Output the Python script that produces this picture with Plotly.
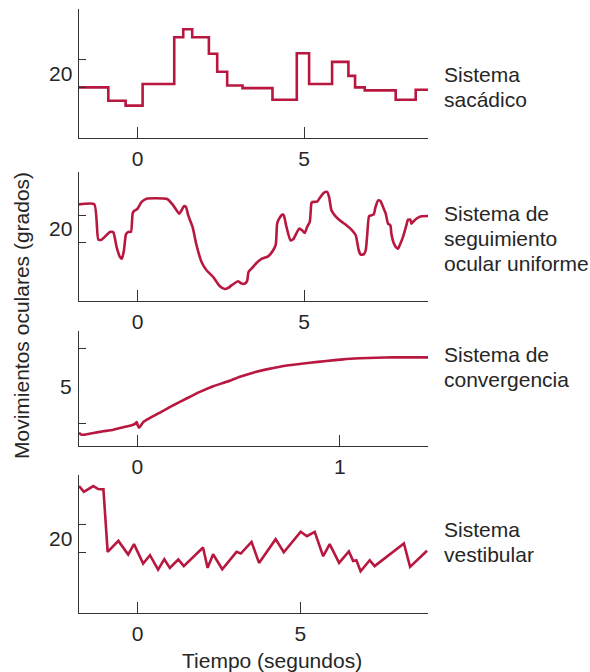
import plotly.graph_objects as go

W, H = 590, 672
LINE = "#B8173F"
AX = "#333333"
TXT = "#262626"
FONT = "Liberation Sans, Arial, Helvetica, sans-serif"

# Panel 1: sacádico (step)
sac_x = [-1.76, -0.88, -0.36, 0.15, 1.10, 1.37, 1.64, 2.14, 2.39, 2.69, 3.15, 4.05, 4.78, 5.15, 5.84, 6.33, 6.53, 6.82, 7.75, 8.35, 8.72]
sac_y = [10, 0.6, -2.9, 12.4, 45.5, 51.2, 45.5, 33.8, 21.1, 11.4, 9.5, 1.3, 34.2, 12.4, 28.1, 18.2, 10, 7.9, 1.3, 8.4, 8.4]

# Panel 2: seguimiento ocular uniforme
seg_x = [-1.76, -1.30, -1.18, -1.08, -0.83, -0.73, -0.63, -0.53, -0.47, -0.41, -0.35, -0.28, -0.20, -0.15, -0.11, -0.01,
         0.12, 0.27, 0.52, 0.89, 1.07, 1.25, 1.32, 1.39, 1.45, 1.52, 1.65, 1.77, 1.92, 2.07, 2.27, 2.47, 2.62, 2.72,
         2.82, 3.02, 3.12, 3.22, 3.29, 3.33, 3.42, 3.57, 3.72, 3.92, 4.07, 4.15, 4.19, 4.25, 4.35, 4.39, 4.47, 4.59,
         4.67, 4.85, 4.94, 5.02, 5.09, 5.17, 5.22, 5.25, 5.39, 5.49, 5.60, 5.69, 5.75, 5.82, 5.92, 6.07, 6.27, 6.42,
         6.55, 6.64, 6.70, 6.79, 6.85, 6.89, 6.95, 7.02, 7.09, 7.14, 7.22, 7.29, 7.37, 7.45, 7.52, 7.59, 7.62, 7.69,
         7.77, 7.82, 7.89, 7.97, 8.07, 8.12, 8.19, 8.22, 8.27, 8.37, 8.52, 8.72]
seg_y = [38.1, 38.1, 12.0, 12.0, 17.7, 17.4, 6.5, -0.9, -2.1, 4.1, 15.9, 17.7, 17.7, 31.2, 33.2, 34.7,
         39.9, 42.3, 42.6, 42.1, 37.4, 31.2, 33.7, 36.7, 36.2, 30.0, 21.4, 7.8, -4.6, -10.7, -15.7, -22.6, -24.6, -23.8,
         -21.9, -18.9, -20.6, -20.6, -18.6, -12.0, -9.5, -5.3, -2.3, -0.4, 4.1, 8.5, 23.8, 27.5, 30.5, 30.0, 21.4, 11.5,
         12.2, 20.1, 18.9, 16.9, 21.4, 25.1, 39.1, 39.9, 40.1, 43.6, 46.8, 47.3, 43.6, 33.7, 30.0, 26.3, 22.6, 19.4,
         15.2, 4.1, 0.9, 1.1, 4.1, 14.0, 29.3, 30.0, 30.7, 35.7, 41.1, 40.6, 36.2, 31.2, 23.8, 22.6, 16.4, 9.5,
         6.0, 5.3, 9.0, 14.0, 22.6, 26.8, 26.8, 23.8, 25.1, 27.5, 29.3, 29.5]

# Panel 3: convergencia
con_x = [-0.288, -0.278, -0.258, -0.217, -0.168, -0.118, -0.069, -0.028, -0.010, -0.003, 0.002, 0.008, 0.016, 0.030,
         0.063, 0.112, 0.178, 0.243, 0.309, 0.375, 0.441, 0.507, 0.572, 0.638, 0.704, 0.770, 0.852, 0.934, 1.016,
         1.099, 1.181, 1.263, 1.345, 1.436]
con_y = [1.92, 1.79, 1.79, 1.90, 2.01, 2.12, 2.28, 2.41, 2.52, 2.63, 2.41, 2.25, 2.37, 2.63,
         2.90, 3.26, 3.75, 4.20, 4.64, 5.02, 5.31, 5.65, 5.92, 6.14, 6.32, 6.45, 6.58, 6.70, 6.81,
         6.88, 6.92, 6.94, 6.94, 6.94]

# Panel 4: vestibular
ves_x = [-1.80, -1.65, -1.36, -1.21, -1.05, -0.92, -0.59, -0.29, -0.11, 0.17, 0.38, 0.63, 0.82, 0.99, 1.25, 1.42,
         2.01, 2.15, 2.32, 2.60, 3.04, 3.17, 3.50, 3.73, 4.24, 4.49, 5.01, 5.20, 5.44, 5.70, 5.90, 6.19, 6.49, 6.62,
         6.72, 6.85, 7.13, 7.28, 8.18, 8.37, 8.89]
ves_y = [56.8, 52.8, 56.8, 54.7, 54.5, 10.5, 18.2, 8.6, 15.9, 2.2, 8.1, -2.0, 5.3, -0.8, 5.1, 0.4,
         13.5, -0.8, 8.8, -1.8, 10.5, 9.3, 17.5, 2.7, 19.4, 10.2, 24.6, 21.5, 24.6, 7.4, 15.9, 2.7, 10.7, 4.1,
         4.6, -3.2, 4.6, 0.4, 16.4, -0.1, 11.2]

panel_names = [["Sistema", "sacádico"],
               ["Sistema de", "seguimiento", "ocular uniforme"],
               ["Sistema de", "convergencia"],
               ["Sistema", "vestibular"]]
x_ticks = [[0, 5], [0, 5], [0, 1], [0, 5]]
y_ticks = [[10, 30], [10, 30], [2.5, 7.5], [10, 30]]
y_labels = [("20", 20), ("20", 20), ("5", 5), ("20", 20)]
x_ranges = [[-1.76, 8.72], [-1.76, 8.72], [-0.288, 1.436], [-1.80, 8.92]]
y_ranges = [[-25.8, 65.5], [-33.5, 62.1], [1.03, 8.7], [-32.6, 64.6]]

# layout in pixels (top, bottom) of each panel
panel_px = [(9, 138), (172, 301), (331, 446), (475, 613)]
x_px = (79, 428)
label_px_y = [[74, 99], [213, 238, 263], [354, 379], [529, 554]]

fig = go.Figure()
series = [(sac_x, sac_y, "hv"), (seg_x, seg_y, "spline"), (con_x, con_y, "spline"), (ves_x, ves_y, "linear")]
for i, (xs, ys, shape) in enumerate(series):
    n = "" if i == 0 else str(i + 1)
    line = dict(color=LINE, width=2.6, shape=shape)
    if shape == "spline":
        line["smoothing"] = 0.5
    fig.add_trace(go.Scatter(x=xs, y=ys, mode="lines", line=line, xaxis="x" + n, yaxis="y" + n,
                             showlegend=False, hoverinfo="skip"))

annotations = []
for i in range(4):
    n = "" if i == 0 else str(i + 1)
    top, bot = panel_px[i]
    fig.layout["xaxis" + n] = dict(
        domain=[x_px[0] / W, x_px[1] / W], range=x_ranges[i], anchor="y" + n,
        showline=True, linecolor=AX, linewidth=1.4, showgrid=False, zeroline=False,
        ticks="inside", ticklen=11, tickwidth=1.4, tickcolor=AX,
        tickvals=x_ticks[i], ticktext=[str(v) for v in x_ticks[i]],
        tickfont=dict(family=FONT, size=21, color=TXT), ticklabelstandoff=2)
    fig.layout["yaxis" + n] = dict(
        domain=[1 - bot / H, 1 - top / H], range=y_ranges[i], anchor="x" + n,
        showline=True, linecolor=AX, linewidth=1.4, showgrid=False, zeroline=False,
        ticks="inside", ticklen=7, tickwidth=1.4, tickcolor=AX,
        tickvals=y_ticks[i], showticklabels=False)
    lab, val = y_labels[i]
    annotations.append(dict(text=lab, x=74 / W, xref="paper", y=val, yref="y" + n,
                            xanchor="right", yanchor="middle", showarrow=False,
                            font=dict(family=FONT, size=21, color=TXT)))
    for line_text, py in zip(panel_names[i], label_px_y[i]):
        annotations.append(dict(text=line_text, x=442 / W, xref="paper", y=1 - py / H, yref="paper",
                                xanchor="left", yanchor="middle", showarrow=False,
                                font=dict(family=FONT, size=21, color=TXT)))

annotations.append(dict(text="Movimientos oculares (grados)", x=21 / W, y=1 - 316 / H, xref="paper", yref="paper",
                        textangle=-90, xanchor="center", yanchor="middle", showarrow=False,
                        font=dict(family=FONT, size=21, color=TXT)))
annotations.append(dict(text="Tiempo (segundos)", x=272 / W, y=1 - 660 / H, xref="paper", yref="paper",
                        xanchor="center", yanchor="middle", showarrow=False,
                        font=dict(family=FONT, size=21, color=TXT)))

fig.update_layout(width=W, height=H, margin=dict(l=0, r=0, t=0, b=0),
                  paper_bgcolor="white", plot_bgcolor="white", annotations=annotations)
fig.write_html("out.html", config={"displayModeBar": False},
               post_script="document.body.style.margin='0';document.body.style.overflow='hidden';")
